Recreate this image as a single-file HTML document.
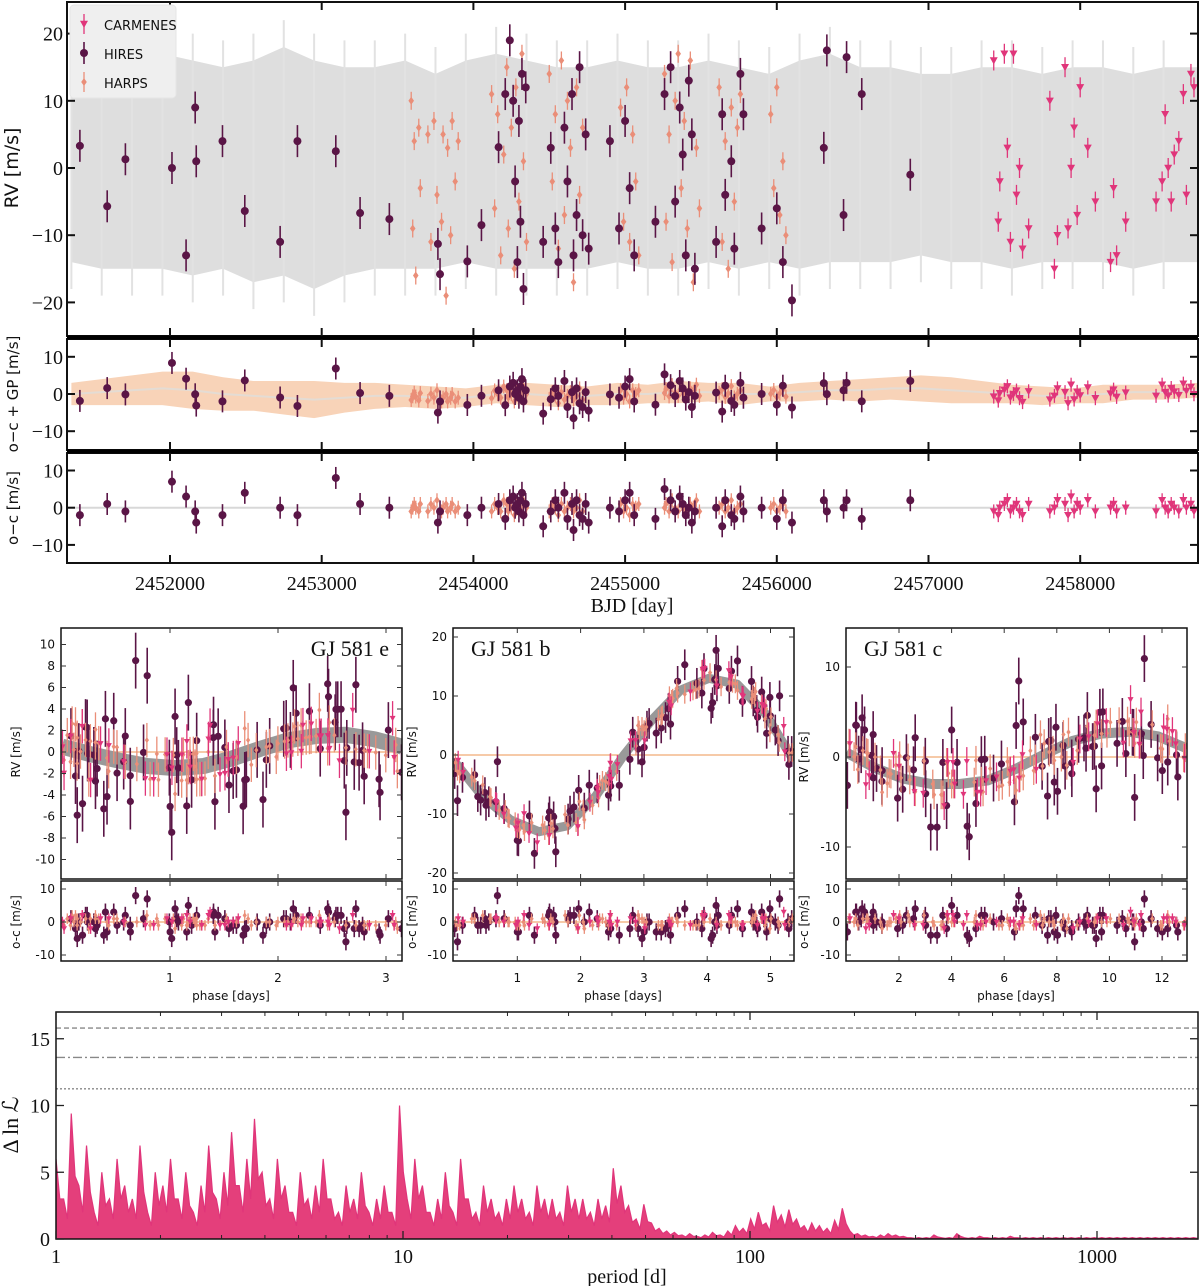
<!DOCTYPE html>
<html><head><meta charset="utf-8"><style>
body{margin:0;background:#fff;}
svg{display:block;}
.sans{font-family:"DejaVu Sans","Liberation Sans",sans-serif;}
.serif{font-family:"Liberation Serif","DejaVu Serif",serif;}
</style></head><body>
<svg id="fig" xmlns="http://www.w3.org/2000/svg" width="1200" height="1286" viewBox="0 0 1200 1286">
<defs>
<clipPath id="cTop"><rect x="67" y="2" width="1131" height="334"/></clipPath>
<clipPath id="cMid"><rect x="67" y="339" width="1131" height="111"/></clipPath>
<clipPath id="cBot"><rect x="67" y="453" width="1131" height="110"/></clipPath>
<clipPath id="cE"><rect x="61" y="628" width="341" height="251"/></clipPath>
<clipPath id="cEo"><rect x="61" y="881" width="341" height="80"/></clipPath>
<clipPath id="cB"><rect x="453" y="628" width="341" height="251"/></clipPath>
<clipPath id="cBo"><rect x="453" y="881" width="341" height="80"/></clipPath>
<clipPath id="cC"><rect x="846" y="628" width="341" height="251"/></clipPath>
<clipPath id="cCo"><rect x="846" y="881" width="341" height="80"/></clipPath>
<clipPath id="cP"><rect x="56" y="1012" width="1142" height="227"/></clipPath>
</defs>
</svg>
<script>
// ---------- DATA ----------
const hiresT=[1406,1586,1706,2013,2106,2166,2173,2346,2493,2726,2840,3093,3253,3446,3766,3780,3960,4053,4166,4210,4240,4262,4275,4290,4300,4310,4320,4330,4345,4460,4510,4540,4560,4600,4620,4650,4660,4680,4700,4720,4740,4760,4900,4960,5000,5030,5060,5200,5260,5300,5330,5360,5380,5400,5420,5440,5460,5600,5640,5660,5700,5720,5760,5780,5900,6000,6040,6100,6310,6330,6440,6460,6560,6880];
const hiresRV=[3.3,-5.7,1.3,0,-13,9,1,4,-6.4,-11,4,2.5,-6.7,-7.6,-11.3,-15.8,-13.9,-8.5,3.1,11,19,10,-2,-14,7,-8,14,-18,12,-11,3,-9,-14,6,-2,11,-13,-7,15,-10,5,-12,4,-9,7,-3,-13,-8,11,15,-5,9,2,-13,13,5,-15,-11,8,-4,1,-12,14,8,-9,-6,-14,-19.7,3,17.5,-7,16.5,11,-1];
const hiresOC=[-2,1,-1,7,3,-1,-4,-2,4,0,-2,8,1,0,-4,-1,-2,0,1,-3,2,3,0,1,-1,2,4,-2,1,-5,-1,2,0,4,-3,1,-6,2,-2,-3,1,-4,0,-1,2,4,-2,-3,5,2,-1,3,1,-2,0,-4,-1,0,-5,2,-2,-3,3,-1,0,-3,2,-4,2,-1,0,2,-3,2];
const harpsT=[3590,3600,3610,3620,3640,3650,3700,3720,3740,3760,3790,3800,3820,3830,3850,3860,3880,3900,4120,4140,4160,4180,4200,4220,4230,4250,4270,4280,4300,4320,4330,4350,4500,4520,4540,4560,4580,4600,4620,4640,4660,4680,4700,4720,4970,4990,5010,5030,5050,5070,5090,5260,5270,5290,5310,5330,5350,5370,5390,5410,5430,5450,5470,5490,5620,5640,5660,5680,5700,5720,5740,5760,5960,5980,6000,6020,6040,6060];
const harpsRV=[10,-9,4,-16,6,-3,5,-11,7,-4,-8,5,-19,3,-10,7,-2,4,11,-6,8,-13,2,15,-9,6,-15,12,-5,17,1,-11,14,-2,8,-12,16,-7,10,3,-17,12,-4,6,9,-8,12,-11,5,-2,-13,14,-8,5,-14,10,17,-3,7,-9,16,-17,3,-6,12,-11,4,-15,9,-5,6,11,8,-3,12,-7,1,-10];
const harpsOC=[-1,0,1,0,-1,1,-1,1,0,2,-1,0,1,-1,0,1,-1,0,-1,1,0,-1,2,1,-1,0,-2,1,0,-1,2,0,-1,1,0,-2,1,-1,0,1,-1,0,2,-1,1,-1,0,-2,1,0,1,0,1,-1,2,0,-1,1,0,-1,1,0,2,-1,0,1,-1,0,2,-1,0,1,0,1,-1,0,1,-1];
const carmT=[7430,7460,7470,7500,7520,7540,7560,7580,7600,7620,7660,7800,7830,7850,7900,7920,7940,7960,7980,8000,8050,8100,8200,8220,8240,8300,8500,8540,8560,8580,8600,8620,8650,8680,8700,8730,8750];
const carmRV=[16,-8,-2,17,3,-11,17,-4,0,-12,-9,10,-15,-10,15,-9,0,6,-7,12,3,-5,-14,-3,-13,-8,-5,-2,8,0,-5,2,4,11,-4,14,12];
const carmOC=[-1,-2,0,1,2,-1,0,1,-1,-2,1,-1,0,2,1,-2,3,-1,1,0,2,-1,0,1,-1,0,-1,2,0,-1,1,0,-1,2,0,1,-1];
// GP envelope (top panel)
const gpT=[1350,1550,1750,1950,2150,2350,2550,2750,2950,3150,3350,3550,3750,3950,4150,4350,4550,4750,4950,5150,5350,5550,5750,5950,6150,6350,6550,6750,6950,7150,7350,7550,7750,7950,8150,8350,8550,8780];
const gpHi=[15,16,16,17,16,15,16,18,16,15,15,16,14,16,17,16,15,15,16,15,15,16,15,14,16,17,15,15,14,14,15,15,14,15,15,14,15,15];
const gpLo=[-14,-15,-15,-15,-16,-15,-17,-16,-18,-16,-15,-15,-15,-14,-15,-15,-15,-15,-14,-15,-15,-14,-15,-14,-15,-14,-14,-14,-13,-14,-14,-15,-14,-14,-14,-15,-14,-14];
// GP band (o-c + GP panel)
const gp2T=[1350,1550,1750,1950,2150,2350,2550,2750,2950,3150,3350,3550,3750,3950,4150,4350,4550,4750,4950,5150,5350,5550,5750,5950,6150,6350,6550,6750,6950,7150,7350,7550,7750,7950,8150,8350,8550,8780];
const gp2W=[3,3.5,4,4.5,5,4.5,4,4.5,5,4,3.5,3,3,2.5,2.5,3,3,2.5,3,2.5,3,2.5,3,2,2.5,2.5,3,3,3.5,3.5,3,2.5,2.5,2,2.5,2,2,2];
const gp2M=[0,0.5,1,1.5,1,0,-0.5,-1,-1.5,-1,-0.5,-0.5,-1,-1,0,0,-0.5,-0.5,0,0,0.5,0.5,0,0,0.5,1,1,1.5,1.5,1,0.5,0,-0.5,-0.5,0,0.5,0.5,1];
// planet models (13 samples over one period)
const modelE=[0.5,-0.2,-0.8,-1.3,-1.5,-1.3,-0.6,0.3,1.1,1.5,1.6,1.2,0.5];
const modelB=[-1,-7,-11,-13,-12,-7,0,6,11,13,12,7,-1];
const modelC=[0.5,-1.2,-2.4,-3,-3,-2.6,-1.3,0.3,1.8,2.6,2.8,2.3,1];
const periodE=3.149, periodB=5.3686, periodC=12.914;
// periodogram: power at log10(P)= i*0.022
const periodPower=[6,3,9.4,4,7,2,5,3,6,4,3,7,2,5,4,6,3,5,2,4,7,3,5,8,4,6,9,5,3,6,4,2,5,3,4,6,3,2,4,3,5,2,3,4,2,10,3,6,4,2,3,5,2,6,3,2,4,3,2,3,4,3,2,4,3,3,2,4,3,3,2,3,2.5,5.3,4,2.5,1.5,2.6,1.2,0.8,0.6,0.5,0.3,0.4,0.2,0.3,0.5,0.3,0.6,1,0.8,1.5,2,1.2,2.5,1.8,2.2,1.5,1,1.2,1,0.8,1.4,2.3,0.6,0.4,0.3,0.2,0.3,0.4,0.3,0.2,0.1,0.1,0.1,0.3,0.1,0.1,0.4,0.1,0.1,0.2,0.1,0.1,0.1,0.2,0.1,0.1,0.1,0.1,0.1,0.1,0.1,0.1,0.1,0.1,0.1,0.1,0.1,0.1,0.1,0.1,0.1,0.1,0.1,0.1,0.1,0.1,0.1,0.1];
const fapLevels=[15.8,13.6,11.25];
const topXTicks=[2000,3000,4000,5000,6000,7000,8000];
const topXLabels=["2452000","2453000","2454000","2455000","2456000","2457000","2458000"];
const topYTicks=[20,10,0,-10,-20];
const ocYTicks=[10,0,-10];
const eYTicks=[10,8,6,4,2,0,-2,-4,-6,-8,-10];
const bYTicks=[20,10,0,-10,-20];
const cYTicks=[10,0,-10];
const eXTicks=[1,2,3], bXTicks=[1,2,3,4,5], cXTicks=[2,4,6,8,10,12];
const perXTicks=[1,10,100,1000];
const perYTicks=[0,5,10,15];

// ---------- HELPERS ----------
const NS='http://www.w3.org/2000/svg';
const svg=document.getElementById('fig');
const COL={hires:'#5a1546',harps:'#ea8e78',carm:'#e0357a'};
function mk(tag,attrs){const e=document.createElementNS(NS,tag);for(const k in attrs)e.setAttribute(k,attrs[k]);return e;}
function group(name,clip){const g=mk('g',clip?{'clip-path':'url(#'+clip+')'}:{});


svg.appendChild(g);return g;}
function line(p,x1,y1,x2,y2,st,sw,name,dash){const e=mk('line',{x1,y1,x2,y2,stroke:st,'stroke-width':sw});if(dash)e.setAttribute('stroke-dasharray',dash);


p.appendChild(e);return e;}
function text(p,x,y,s,size,cls,anchor,name,rot){const e=mk('text',{x,y,'font-size':size,'text-anchor':anchor||'middle',fill:'#111',class:cls});if(rot)e.setAttribute('transform','rotate(-90 '+x+' '+y+')');e.textContent=s;


p.appendChild(e);return e;}
function frame(p,x,y,w,h,sw,name){const e=mk('rect',{x,y,width:w,height:h,fill:'none',stroke:'#111','stroke-width':sw});


p.appendChild(e);}
function marker(p,inst,x,y,err,r,name){
 const c=COL[inst];
 line(p,x,y-err,x,y+err,c,inst==='hires'?1.6:1.3,name+'-errorbar');
 let m;
 if(inst==='hires') m=mk('circle',{cx:x,cy:y,r:r,fill:c});
 else if(inst==='harps') m=mk('polygon',{points:`${x},${y-r} ${x+r*0.7},${y} ${x},${y+r} ${x-r*0.7},${y}`,fill:c});
 else m=mk('polygon',{points:`${x-r},${y-r*0.8} ${x+r},${y-r*0.8} ${x},${y+r}`,fill:c});
 
 
 p.appendChild(m);
}
function interp(model,P,ph){const f=ph/P*12;const i=Math.min(11,Math.floor(f));const u=f-i;return model[i]*(1-u)+model[i+1]*u;}
function mod(t,P){return ((t%P)+P)%P;}

// ---------- TOP THREE PANELS ----------
const TX=t=>170+(t-2000)*0.1517;
const Y1=v=>168-v*6.72, Y2=v=>394-v*3.72, Y3=v=>507.7-v*3.72;
const gTop=group('rv-time-panel','cTop');
let pts=gpT.map((t,i)=>TX(t)+','+Y1(gpHi[i])).concat(gpT.slice().reverse().map((t,i)=>TX(t)+','+Y1(gpLo[gpT.length-1-i])));
const band=mk('polygon',{points:pts.join(' '),fill:'#dedede'});


gTop.appendChild(band);
gpT.forEach((t,i)=>{line(gTop,TX(t),Y1(gpHi[i]+4),TX(t),Y1(gpLo[i]-4),'#e2e2e2',2,'gp-spike');});
harpsT.forEach((t,i)=>marker(gTop,'harps',TX(t),Y1(harpsRV[i]),9,4,'harps-point'));
hiresT.forEach((t,i)=>marker(gTop,'hires',TX(t),Y1(hiresRV[i]),16,4,'hires-point'));
carmT.forEach((t,i)=>marker(gTop,'carm',TX(t),Y1(carmRV[i]),10,4,'carmenes-point'));

const gMid=group('oc-gp-panel','cMid');
const gpM=t=>{for(let i=0;i<gp2T.length-1;i++){if(t<=gp2T[i+1]){const u=(t-gp2T[i])/(gp2T[i+1]-gp2T[i]);return gp2M[i]*(1-u)+gp2M[i+1]*u;}}return 0;};
pts=gp2T.map((t,i)=>TX(t)+','+Y2(gp2M[i]+gp2W[i])).concat(gp2T.slice().reverse().map((t,i)=>{const j=gp2T.length-1-i;return TX(t)+','+Y2(gp2M[j]-gp2W[j]);}));
const band2=mk('polygon',{points:pts.join(' '),fill:'#f8d3b8'});


gMid.appendChild(band2);
const pl2=mk('polyline',{points:gp2T.map((t,i)=>TX(t)+','+Y2(gp2M[i])).join(' '),fill:'none',stroke:'#e4dcd4','stroke-width':2});


gMid.appendChild(pl2);
harpsT.forEach((t,i)=>marker(gMid,'harps',TX(t),Y2(harpsOC[i]+gpM(t)),7,4,'harps-ocgp'));
hiresT.forEach((t,i)=>marker(gMid,'hires',TX(t),Y2(hiresOC[i]+gpM(t)),11,4,'hires-ocgp'));
carmT.forEach((t,i)=>marker(gMid,'carm',TX(t),Y2(carmOC[i]+gpM(t)),7,4,'carmenes-ocgp'));

const gBot=group('oc-panel','cBot');
line(gBot,67,Y3(0),1198,Y3(0),'#d8d8d8',2,'zero-line');
harpsT.forEach((t,i)=>marker(gBot,'harps',TX(t),Y3(harpsOC[i]),7,4,'harps-oc'));
hiresT.forEach((t,i)=>marker(gBot,'hires',TX(t),Y3(hiresOC[i]),11,4,'hires-oc'));
carmT.forEach((t,i)=>marker(gBot,'carm',TX(t),Y3(carmOC[i]),7,4,'carmenes-oc'));

const gAx=group('time-axes');
frame(gAx,67,2,1131,334,2,'rv-frame');
frame(gAx,67,339,1131,111,2,'ocgp-frame');
frame(gAx,67,453,1131,110,2,'oc-frame');
line(gAx,67,337.5,1198,337.5,'#000',4,'separator-1');
line(gAx,67,451.5,1198,451.5,'#000',4,'separator-2');
[[2,336],[339,450],[453,563]].forEach(([a,b])=>{
 topXTicks.forEach(v=>{const x=TX(v);line(gAx,x,a,x,a+8,'#111',2,'x-tick');line(gAx,x,b,x,b-8,'#111',2,'x-tick');});
});
topXTicks.forEach((v,i)=>text(gAx,TX(v),590,topXLabels[i],20,'serif','middle','x-tick-label'));
text(gAx,632,612,'BJD [day]',20,'serif','middle','x-axis-title');
topYTicks.forEach(v=>{line(gAx,67,Y1(v),75,Y1(v),'#111',2,'y-tick');line(gAx,1198,Y1(v),1190,Y1(v),'#111',2,'y-tick');text(gAx,63,Y1(v)+7,v<0?'−'+(-v):String(v),20,'serif','end','y-tick-label');});
ocYTicks.forEach(v=>{[Y2,Y3].forEach(Y=>{line(gAx,67,Y(v),75,Y(v),'#111',2,'y-tick');line(gAx,1198,Y(v),1190,Y(v),'#111',2,'y-tick');text(gAx,63,Y(v)+7,v<0?'−'+(-v):String(v),20,'serif','end','y-tick-label');});});
text(gAx,18,168,'RV [m/s]',19,'sans','middle','rv-axis-title',true);
text(gAx,18,394,'o−c + GP [m/s]',15,'sans','middle','ocgp-axis-title',true);
text(gAx,18,508,'o−c [m/s]',15,'sans','middle','oc-axis-title',true);
// legend
const gL=group('legend');
const lb=mk('rect',{x:70,y:5,width:106,height:93,rx:4,fill:'#efefef',stroke:'#e6e6e6'});


gL.appendChild(lb);
marker(gL,'carm',84,24,10,4,'legend-carmenes-marker');
marker(gL,'hires',84,53,11,4,'legend-hires-marker');
marker(gL,'harps',84,82,10,4,'legend-harps-marker');
text(gL,104,30,'CARMENES',13,'sans','start','legend-carmenes');
text(gL,104,59,'HIRES',13,'sans','start','legend-hires');
text(gL,104,88,'HARPS',13,'sans','start','legend-harps');

// ---------- PHASE PANELS ----------
function phasePanel(cfg){
 const {name,x0,pxPerDay,P,model,y0,pxPerV,yTicks,xTicks,clip,clipo,title,titleX,titleAnchor,errMul,bandW}=cfg;
 const X=p=>x0+p*pxPerDay, Y=v=>y0-v*pxPerV, Yo=v=>922-v*3.3;
 const left=cfg.left, right=left+341;
 const g=group(name+'-rv-panel',clip);
 line(g,left,Y(0),right,Y(0),'#f3b98c',1.5,'zero-line');
 const mdl=[];for(let k=0;k<=12;k++)mdl.push(X(k*P/12)+','+Y(model[k]));
 const ml=mk('polyline',{points:mdl.join(' '),fill:'none',stroke:'#999','stroke-width':bandW,'stroke-linejoin':'round'});
 
 
 g.appendChild(ml);
 const go=group(name+'-oc-panel',clipo);
 line(go,left,Yo(0),right,Yo(0),'#f3b98c',1.5,'zero-line');
 const sets=[['hires',hiresT,hiresOC,2.6],['harps',harpsT,harpsOC,1.6],['carm',carmT,carmOC,1.6]];
 sets.forEach(([inst,T,OC,e])=>{T.forEach((t,i)=>{
   const ph=mod(t,P);
   const rv=OC[i]*errMul+interp(model,P,ph);
   marker(g,inst,X(ph),Y(rv),e*pxPerV,inst==='hires'?3.6:3,name+'-'+inst+'-point');
   marker(go,inst,X(ph),Yo(OC[i]),e*3.3,inst==='hires'?3.6:3,name+'-'+inst+'-residual');
 });});
 const ga=group(name+'-axes');
 frame(ga,left,628,341,251,1.5,name+'-rv-frame');
 frame(ga,left,881,341,80,1.5,name+'-oc-frame');
 yTicks.forEach(v=>{line(ga,left,Y(v),left+5,Y(v),'#333',1,'y-tick');line(ga,right,Y(v),right-5,Y(v),'#333',1,'y-tick');text(ga,left-6,Y(v)+4,String(v),12,'sans','end','y-tick-label');});
 ocYTicks.forEach(v=>{line(ga,left,Yo(v),left+5,Yo(v),'#333',1,'y-tick');line(ga,right,Yo(v),right-5,Yo(v),'#333',1,'y-tick');text(ga,left-6,Yo(v)+4,String(v),12,'sans','end','y-tick-label');});
 xTicks.forEach(v=>{const x=X(v);line(ga,x,628,x,633,'#333',1,'x-tick');line(ga,x,879,x,874,'#333',1,'x-tick');line(ga,x,881,x,886,'#333',1,'x-tick');line(ga,x,961,x,956,'#333',1,'x-tick');text(ga,x,982,String(v),12,'sans','middle','x-tick-label');});
 text(ga,left+170,1000,'phase [days]',12,'sans','middle','x-axis-title');
 text(ga,titleX,656,title,22,'serif',titleAnchor,name+'-title');
}
phasePanel({name:'gj581e',left:61,x0:62,pxPerDay:108,P:periodE,model:modelE,y0:752,pxPerV:10.75,yTicks:eYTicks,xTicks:eXTicks,clip:'cE',clipo:'cEo',title:'GJ 581 e',titleX:389,titleAnchor:'end',errMul:1.2,bandW:16});
phasePanel({name:'gj581b',left:453,x0:454,pxPerDay:63.3,P:periodB,model:modelB,y0:755,pxPerV:5.9,yTicks:bYTicks,xTicks:bXTicks,clip:'cB',clipo:'cBo',title:'GJ 581 b',titleX:471,titleAnchor:'start',errMul:1,bandW:9});
phasePanel({name:'gj581c',left:846,x0:846.4,pxPerDay:26.3,P:periodC,model:modelC,y0:757,pxPerV:9,yTicks:cYTicks,xTicks:cXTicks,clip:'cC',clipo:'cCo',title:'GJ 581 c',titleX:864,titleAnchor:'start',errMul:1.2,bandW:10});
const gPL=group('phase-axis-titles');
text(gPL,20,752,'RV [m/s]',12,'sans','middle','e-rv-axis-title',true);
text(gPL,20,922,'o-c [m/s]',12,'sans','middle','e-oc-axis-title',true);
text(gPL,416,752,'RV [m/s]',12,'sans','middle','b-rv-axis-title',true);
text(gPL,416,922,'o-c [m/s]',12,'sans','middle','b-oc-axis-title',true);
text(gPL,808,757,'RV [m/s]',12,'sans','middle','c-rv-axis-title',true);
text(gPL,808,922,'o-c [m/s]',12,'sans','middle','c-oc-axis-title',true);

// ---------- PERIODOGRAM ----------
const PX=lp=>56+lp*347, PY=v=>1239-v*13.35;
const gP=group('periodogram-panel','cP');
fapLevels.forEach((v,i)=>line(gP,56,PY(v),1198,PY(v),'#888',1.3,'fap-line-'+i,['5,3','9,3,2,3','2,2'][i]));
let pp=['56,'+PY(0)];
periodPower.forEach((v,i)=>{const x=PX(i*0.022);pp.push(x+','+PY(v));pp.push((x+3.8)+','+PY(v*0.5));});
pp.push(PX((periodPower.length-1)*0.022)+','+PY(0));
const area=mk('polygon',{points:pp.join(' '),fill:'#e43f7b',stroke:'#e0357a','stroke-width':1.2});


gP.appendChild(area);
const gPA=group('periodogram-axes');
frame(gPA,56,1012,1142,227,1.5,'periodogram-frame');
perXTicks.forEach(v=>{const x=PX(Math.log10(v));line(gPA,x,1239,x,1231,'#222',1.3,'x-tick');line(gPA,x,1012,x,1020,'#222',1.3,'x-tick');text(gPA,x,1263,String(v),20,'serif','middle','x-tick-label');});
[2,3,4,5,6,7,8,9,20,30,40,50,60,70,80,90,200,300,400,500,600,700,800,900].forEach(v=>{const x=PX(Math.log10(v));line(gPA,x,1239,x,1235,'#222',1,'minor-tick');line(gPA,x,1012,x,1016,'#222',1,'minor-tick');});
perYTicks.forEach(v=>{line(gPA,56,PY(v),64,PY(v),'#222',1.3,'y-tick');line(gPA,1198,PY(v),1190,PY(v),'#222',1.3,'y-tick');text(gPA,50,PY(v)+7,String(v),20,'serif','end','y-tick-label');});
text(gPA,627,1283,'period [d]',20,'serif','middle','x-axis-title');
text(gPA,18,1125,'Δ ln ℒ',22,'serif','middle','y-axis-title',true);
</script>
</body></html>
